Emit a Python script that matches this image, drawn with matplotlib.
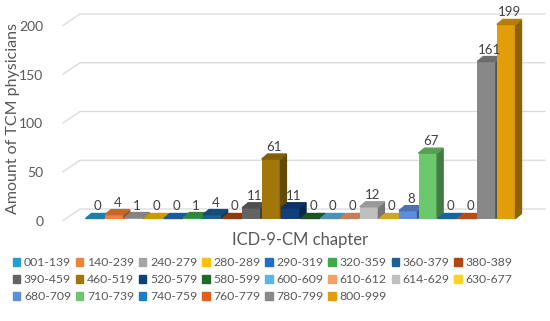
import matplotlib
matplotlib.use("Agg")
from matplotlib import pyplot as plt
from matplotlib.patches import Polygon, Patch
from matplotlib.colors import to_rgb
from matplotlib.transforms import ScaledTranslation

chapters = ["001-139", "140-239", "240-279", "280-289", "290-319", "320-359",
            "360-379", "380-389", "390-459", "460-519", "520-579", "580-599",
            "600-609", "610-612", "614-629", "630-677", "680-709", "710-739",
            "740-759", "760-779", "780-799", "800-999"]
counts = [0, 4, 1, 0, 0, 1, 4, 0, 11, 61, 11, 0, 0, 0, 12, 0, 8, 67, 0, 0, 161, 199]
colors = ["#21a0d6", "#f2813a", "#a5a5a5", "#ffc000", "#1f6fc8", "#3daa48",
          "#1a5f95", "#b4470e", "#636363", "#a07708", "#113f7c", "#1e6a2a",
          "#5bb5e6", "#f59f6a", "#bfbfbf", "#ffd027", "#5b8fdb", "#6cc86c",
          "#1a7fc7", "#e2601c", "#888888", "#e29e0a"]
yticks = [0, 50, 100, 150, 200]

plt.rcParams["font.family"] = ["Lato", "DejaVu Sans"]
TXT = "#595959"

W, H = 550, 321
fig = plt.figure(figsize=(W / 100, H / 100), dpi=100)

# plot area in pixels (front plane of the bars)
x_left, x_right = 85, 516
y_zero, px_per_unit = 218.5, 0.975
ymax = 210
ax = fig.add_axes([x_left / W, (H - y_zero) / H, (x_right - x_left) / W,
                   ymax * px_per_unit / H])
n = len(counts)
ax.set_xlim(-0.5, n - 0.5)
ax.set_ylim(0, ymax)
px_per_cat = (x_right - x_left) / n

def px_x(px):
    return px / px_per_cat

def px_y(px):
    return px / px_per_unit

def shade(c, f):
    r, g, b = to_rgb(c)
    return (r * f, g * f, b * f)

# back wall gridlines with slanted left wall part
dx_wall, dy_wall = px_x(17), px_y(11.5)
for v in yticks:
    x0 = -0.5 - px_x(22)
    y0 = v - px_y(2)
    ax.plot([x0, x0 + dx_wall, n - 0.5 + px_x(29)], [y0, y0 + dy_wall, y0 + dy_wall],
            color="#d9d9d9", lw=0.9, clip_on=False, zorder=0)

# pseudo 3D bars
bw = 0.95
ddx, ddy = px_x(6), px_y(5)
for i, (v, c) in enumerate(zip(counts, colors)):
    z = 2 + i * 0.01
    x0, x1 = i - bw / 2, i + bw / 2
    if v > 0:
        ax.bar(i, v, width=bw, color=c, zorder=z)
        ax.add_patch(Polygon([(x1, 0), (x1, v), (x1 + ddx, v + ddy), (x1 + ddx, ddy)],
                             closed=True, color=shade(c, 0.62), zorder=z, clip_on=False))
    ax.add_patch(Polygon([(x0, v), (x1, v), (x1 + ddx, v + ddy), (x0 + ddx, v + ddy)],
                         closed=True, color=shade(c, 0.8), zorder=z, clip_on=False))
    ax.text(i + ddx / 2, v + ddy + px_y(1), str(v), ha="center", va="bottom",
            fontsize=9.5, color="#404040", zorder=5, clip_on=False)

for s in ax.spines.values():
    s.set_visible(False)
ax.set_xticks([])
ax.set_yticks(yticks)
ax.tick_params(axis="y", length=0, labelsize=10, labelcolor=TXT, pad=30)
shift = ScaledTranslation(0, -2.5 / 100, fig.dpi_scale_trans)
for lab in ax.get_yticklabels():
    lab.set_transform(lab.get_transform() + shift)

fig.text(13 / W, 1 - 118 / H, "Amount of TCM physicians", rotation=90,
         ha="center", va="center", fontsize=11.5, color=TXT)
fig.text(300 / W, 1 - 240 / H, "ICD-9-CM chapter", ha="center", va="center",
         fontsize=12, color=TXT)

# legend filled row by row (matplotlib fills columns first)
ncol = 8
order = [k for j in range(ncol) for k in range(j, n, ncol)]
handles = [Patch(color=colors[k]) for k in order]
labels = [chapters[k] for k in order]
fig.legend(handles, labels, loc="upper left", bbox_to_anchor=(13 / W, 1 - 257 / H),
           ncol=ncol, frameon=False, fontsize=8.8, labelcolor=TXT,
           handlelength=0.6, handleheight=0.6, handletextpad=0.3,
           columnspacing=0.4, labelspacing=0.5, borderpad=0, borderaxespad=0)

fig.savefig("out.png", dpi=100)
